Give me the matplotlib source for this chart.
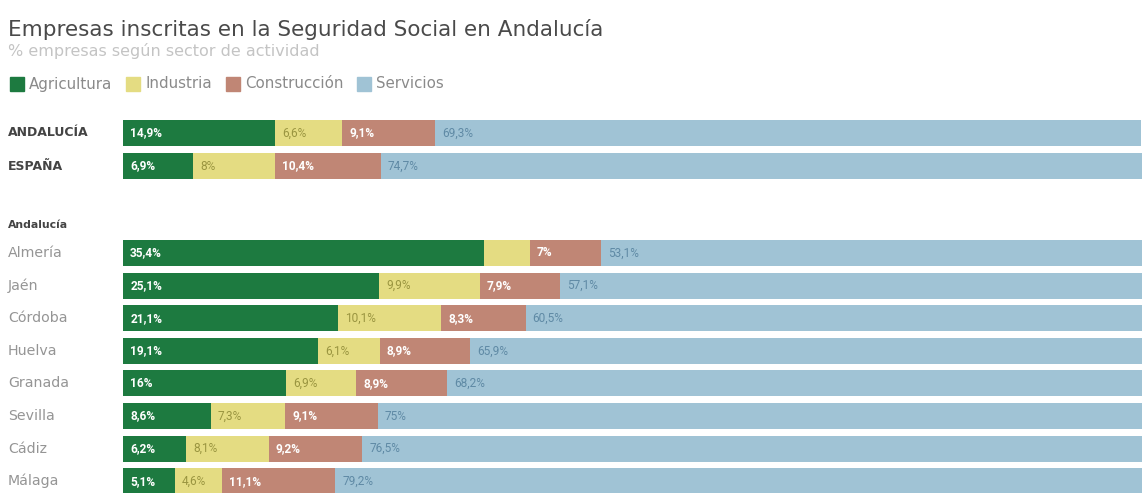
import matplotlib
matplotlib.use("Agg")
import matplotlib.pyplot as plt
from matplotlib.patches import Rectangle

plt.rcParams['font.family'] = ['DejaVu Sans']

sectors = ["Agricultura", "Industria", "Construcción", "Servicios"]
colors = ["#1d7a40", "#e4dc82", "#c08675", "#a0c3d5"]
label_colors = ["white", "#9a9540", "white", "#5f8aa5"]

totals = ["ANDALUCÍA", "ESPAÑA"]
totals_values = [
    [14.9, 6.6, 9.1, 69.3],
    [6.9, 8.0, 10.4, 74.7],
]

provinces = ["Almería", "Jaén", "Córdoba", "Huelva", "Granada", "Sevilla", "Cádiz", "Málaga"]
provinces_values = [
    [35.4, 4.5, 7.0, 53.1],
    [25.1, 9.9, 7.9, 57.1],
    [21.1, 10.1, 8.3, 60.5],
    [19.1, 6.1, 8.9, 65.9],
    [16.0, 6.9, 8.9, 68.2],
    [8.6, 7.3, 9.1, 75.0],
    [6.2, 8.1, 9.2, 76.5],
    [5.1, 4.6, 11.1, 79.2],
]
hidden = [(0, 1)]  # Almería industria has no label


def fmt(v):
    s = ("%.1f" % v).rstrip("0").rstrip(".")
    return s.replace(".", ",") + "%"


W, H = 1142, 493
fig = plt.figure(figsize=(W / 100, H / 100), dpi=100)
ax = fig.add_axes([123 / W, 0, 1 - 123 / W, 1])
ax.set_xlim(0, 100)
ax.set_ylim(H, 0)
ax.axis("off")

bar_h = 26
y_tot = [133, 166]
y_prov = [253 + i * 32.6 for i in range(len(provinces))]


def draw_rows(names, values, ys, row_idx_offset, bold):
    for r, (name, vals, y) in enumerate(zip(names, values, ys)):
        left = 0
        for k, v in enumerate(vals):
            ax.barh(y, v, left=left, height=bar_h, color=colors[k], edgecolor="none")
            if (r + row_idx_offset, k) not in hidden:
                ax.text(left + 0.7, y, fmt(v), ha="left", va="center",
                        fontsize=8.6, color=label_colors[k], family="Roboto",
                        fontweight="bold" if k in (0, 2) else "normal")
            left += v
        if bold:
            fig.text(8 / W, 1 - y / H, name, ha="left", va="center",
                     fontsize=9, color="#444444", fontweight="bold")
        else:
            fig.text(8 / W, 1 - y / H, name, ha="left", va="center",
                     fontsize=10.2, color="#959595")


draw_rows(totals, totals_values, y_tot, -100, True)
draw_rows(provinces, provinces_values, y_prov, 0, False)

fig.text(8 / W, 1 - 225 / H, "Andalucía", ha="left", va="center",
         fontsize=7.8, color="#444444", fontweight="bold")

fig.text(8 / W, 1 - 30 / H, "Empresas inscritas en la Seguridad Social en Andalucía",
         ha="left", va="center", fontsize=15.5, color="#4a4a4a")
fig.text(8 / W, 1 - 51 / H, "% empresas según sector de actividad",
         ha="left", va="center", fontsize=11.5, color="#c4c4c4")

# legend
renderer = fig.canvas.get_renderer()
x = 10
for name, c in zip(sectors, colors):
    fig.patches.append(Rectangle((x / W, 1 - 91 / H), 14 / W, 14 / H,
                                 transform=fig.transFigure, color=c))
    t = fig.text((x + 19) / W, 1 - 84 / H, name, ha="left", va="center",
                 fontsize=10.8, color="#8a8a8a")
    bb = t.get_window_extent(renderer)
    x = bb.x1 + 14

fig.savefig("out.png", dpi=100, facecolor="white")
